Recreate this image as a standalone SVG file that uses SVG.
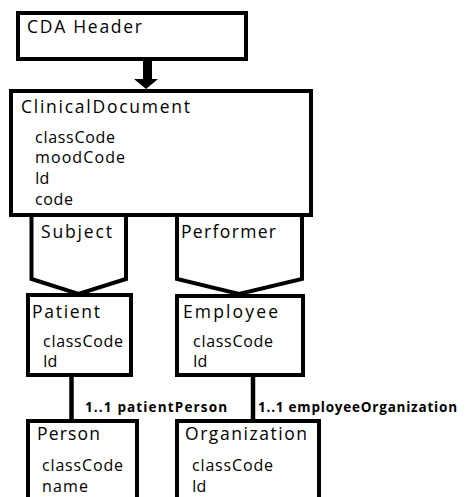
<svg xmlns="http://www.w3.org/2000/svg" width="466" height="497" viewBox="0 0 466 497">
<style>
.box{fill:#fff;stroke:#000;stroke-width:4}
.chev{fill:#fff;stroke:#000;stroke-width:4;stroke-linejoin:miter}
.ln{stroke:#000;stroke-width:4.5;fill:none}
text{font-family:"Open Sans","Noto Sans","Liberation Sans",sans-serif;fill:#000}
.t{font-size:17.5px}
.a{font-size:16px}
.l{font-size:13.5px;font-weight:bold}
</style>
<rect width="466" height="497" fill="#fff"/>
<g id="connectors">
  <polygon points="143,61 152,61 152,79 158,79 146,89 134,79 143,79" fill="#000"/>
  <g id="subject">
    <path class="chev" d="M31.5,214 L31.5,279 L78.5,294 L126,279 L126,214"/>
    <text class="t" x="41" y="238" textLength="71" lengthAdjust="spacing">Subject</text>
  </g>
  <g id="performer">
    <path class="chev" d="M177,214 L177,279 L239,294 L302,279 L302,214"/>
    <text class="t" x="181" y="238" textLength="95" lengthAdjust="spacing">Performer</text>
  </g>
  <line class="ln" x1="71.5" y1="376" x2="71.5" y2="421"/>
  <line class="ln" x1="253" y1="376" x2="253" y2="421"/>
  <text class="l" x="85" y="412" textLength="142" lengthAdjust="spacing">1..1 patientPerson</text>
  <text class="l" x="258" y="412" textLength="199" lengthAdjust="spacing">1..1 employeeOrganization</text>
</g>
<g id="cda-header">
  <rect class="box" x="18" y="13" width="228" height="46"/>
  <text class="t" x="27" y="33" textLength="115" lengthAdjust="spacing">CDA Header</text>
</g>
<g id="clinical-document">
  <rect class="box" x="11" y="91" width="300" height="124"/>
  <text class="t" x="21" y="113" textLength="169" lengthAdjust="spacing">ClinicalDocument</text>
  <text class="a" x="35" y="143" textLength="80" lengthAdjust="spacing">classCode</text>
  <text class="a" x="35" y="163" textLength="90" lengthAdjust="spacing">moodCode</text>
  <text class="a" x="35" y="184">Id</text>
  <text class="a" x="35" y="205" textLength="38" lengthAdjust="spacing">code</text>
</g>
<g id="patient">
  <rect class="box" x="28" y="295" width="103" height="80"/>
  <text class="t" x="32" y="318" textLength="68" lengthAdjust="spacing">Patient</text>
  <text class="a" x="43" y="347" textLength="80" lengthAdjust="spacing">classCode</text>
  <text class="a" x="43" y="367">Id</text>
</g>
<g id="employee">
  <rect class="box" x="177" y="296" width="126" height="79"/>
  <text class="t" x="183" y="318" textLength="95" lengthAdjust="spacing">Employee</text>
  <text class="a" x="193" y="347" textLength="80" lengthAdjust="spacing">classCode</text>
  <text class="a" x="193" y="367">Id</text>
</g>
<g id="person">
  <rect class="box" x="28" y="421" width="109" height="90"/>
  <text class="t" x="37" y="440" textLength="63" lengthAdjust="spacing">Person</text>
  <text class="a" x="42" y="471" textLength="81" lengthAdjust="spacing">classCode</text>
  <text class="a" x="42" y="492" textLength="46" lengthAdjust="spacing">name</text>
</g>
<g id="organization">
  <rect class="box" x="177" y="421" width="142" height="90"/>
  <text class="t" x="185" y="440" textLength="122" lengthAdjust="spacing">Organization</text>
  <text class="a" x="192" y="471" textLength="81" lengthAdjust="spacing">classCode</text>
  <text class="a" x="192" y="492">Id</text>
</g>
</svg>
